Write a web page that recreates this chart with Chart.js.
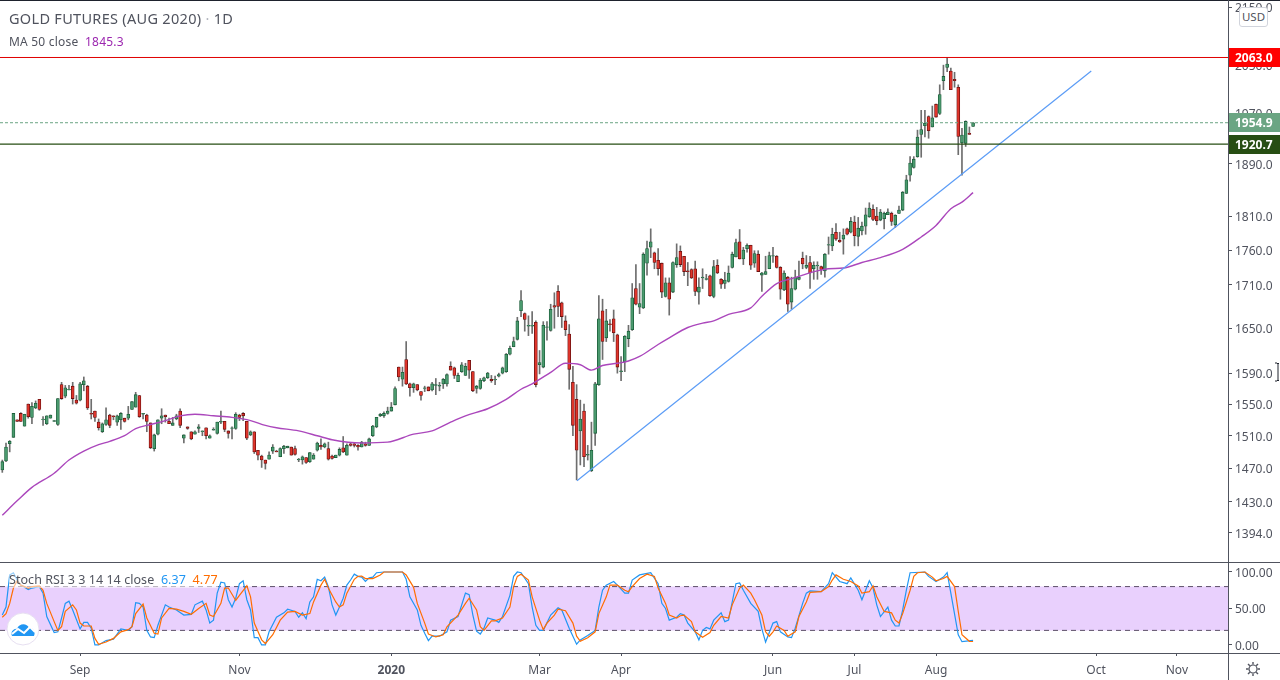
<!DOCTYPE html>
<html>
<head>
<meta charset="utf-8">
<title>Gold futures</title>
<script src="https://cdn.jsdelivr.net/npm/chart.js@4"></script>
<style>
    html, body { margin: 0; padding: 0; background: #fff; }
    #page { position: relative; width: 1280px; height: 680px; overflow: hidden; font-family: "Noto Sans", sans-serif; color: #50535e; }
    canvas { position: absolute; left: 0; display: block; }
    #main { top: 0; }
    #stoch { top: 562px; }
    .rule { position: absolute; background: #50535e; }
    .txt { position: absolute; white-space: pre; }
    #usd { position: absolute; left: 1239px; top: 7px; width: 27px; height: 18px; line-height: 18px; border: 1px solid #d1d4dc; border-radius: 3px; background: #fff; font-size: 11.5px; text-align: center; }
</style>
</head>
<body>
<div id="page">
    <canvas id="main" width="1280" height="562"></canvas>
    <canvas id="stoch" width="1280" height="118"></canvas>
    <div class="rule" style="left:0;top:0;width:1280px;height:1px;background:#1e222d"></div>
    <div class="rule" style="left:0;top:562px;width:1280px;height:1px"></div>
    <div class="rule" style="left:0;top:653px;width:1280px;height:1px"></div>
    <div class="rule" style="left:1228px;top:0;width:1px;height:680px"></div>
    <div class="txt" style="left:9px;top:8px;font-size:14.5px;letter-spacing:0.3px">GOLD FUTURES (AUG 2020) <span style="color:#b2b5be">·</span> 1D</div>
    <div class="txt" style="left:9px;top:33px;font-size:12px;letter-spacing:0.2px">MA 50 close  <span style="color:#9c27b0">1845.3</span></div>
    <div class="txt" style="left:9px;top:571px;font-size:12.5px;letter-spacing:0.06px;background:rgba(255,255,255,0.55)">Stoch RSI 3 3 14 14 close  <span style="color:#2196f3">6.37</span>  <span style="color:#ff6d00">4.77</span></div>
    <div id="usd">USD</div>
    <svg style="position:absolute;left:6px;top:612px" width="34" height="34" viewBox="0 0 34 34">
        <circle cx="17" cy="17" r="16" fill="#fff" stroke="#e6dff0"/>
        <path d="M6 24 C4 19 9 16 11 17 C13 11 21 11 23 16 C27 15 30 20 28 24 Z" fill="#2196f3"/>
        <path d="M6 22 L12 17 L18 21 L24 15 L29 20" fill="none" stroke="#fff" stroke-width="2"/>
    </svg>
    <svg style="position:absolute;left:1245px;top:661px" width="16" height="16" viewBox="0 0 16 16">
        <circle cx="8" cy="8" r="4" fill="none" stroke="#50535e" stroke-width="1.2"/>
        <path d="M8 1V3.5M8 12.5V15M1 8H3.5M12.5 8H15M3 3L4.8 4.8M11.2 11.2L13 13M13 3L11.2 4.8M4.8 11.2L3 13" stroke="#50535e" stroke-width="1.4"/>
    </svg>
    <svg style="position:absolute;left:1274px;top:362px" width="6" height="20" viewBox="0 0 6 20">
        <path d="M1 1H3L4 2L5 1M4 2V18M1 19H3L4 18L5 19" fill="none" stroke="#1e222d" stroke-width="1"/>
    </svg>
</div>

<script>
var opens = [
    1468,1479,1500,1508,1530,1538,1522,1550,1533,1545,
    1556,1530,1525,1532,1528,1524,1575,1560,1568,1573,
    1555,1555,1575,1573,1538,1541,1527,1515,1524,1536,
    1535,1527,1530,1532,1532,1543,1546,1561,1537,1536,
    1526,1494,1512,1532,1536,1528,1523,1531,1541,1507,
    1521,1515,1512,1519,1515,1520,1507,1517,1513,1527,
    1528,1516,1519,1519,1536,1538,1528,1511,1515,1492,
    1485,1480,1481,1491,1491,1484,1494,1495,1496,1494,
    1480,1480,1483,1478,1481,1492,1498,1496,1494,1485,
    1483,1486,1495,1486,1500,1500,1498,1496,1500,1498,
    1510,1521,1535,1535,1538,1541,1549,1598,1582,1608,
    1576,1571,1575,1566,1570,1572,1568,1574,1573,1576,
    1576,1599,1597,1579,1592,1587,1607,1592,1570,1570,
    1580,1584,1582,1581,1586,1590,1592,1615,1625,1635,
    1674,1670,1653,1653,1658,1601,1598,1651,1647,1681,
    1701,1685,1660,1642,1578,1556,1516,1541,1486,1467,
    1513,1575,1674,1637,1656,1663,1641,1592,1605,1636,
    1648,1705,1679,1678,1741,1764,1756,1745,1741,1694,
    1713,1700,1739,1758,1751,1730,1732,1733,1700,1720,
    1718,1723,1694,1738,1718,1712,1715,1735,1750,1772,
    1747,1762,1767,1741,1754,1724,1725,1733,1751,1751,
    1735,1703,1721,1686,1704,1718,1748,1735,1742,1733,
    1737,1736,1730,1767,1766,1786,1774,1776,1791,1786,
    1801,1780,1788,1795,1809,1820,1810,1804,1806,1812,
    1814,1797,1814,1819,1844,1872,1884,1901,1936,1950,
    1965,1948,1985,1970,2024,2046,2040,2026,2013,1923,
    1922,1938,1949
];
var closes = [
    1478,1496,1503,1538,1528,1528,1537,1534,1547,1551,
    1543,1531,1535,1536,1529,1557,1557,1571,1569,1557,
    1551,1576,1580,1545,1537,1533,1520,1525,1530,1523,
    1534,1535,1538,1528,1537,1553,1562,1534,1538,1528,
    1495,1511,1530,1535,1534,1525,1526,1535,1523,1511,
    1519,1506,1515,1521,1516,1510,1510,1518,1527,1528,
    1518,1513,1520,1537,1533,1535,1507,1515,1490,1486,
    1480,1476,1486,1496,1490,1494,1497,1497,1486,1487,
    1481,1484,1477,1489,1486,1501,1496,1500,1481,1482,
    1486,1493,1490,1498,1498,1498,1496,1502,1498,1506,
    1522,1533,1537,1538,1541,1546,1570,1585,1591,1576,
    1571,1576,1568,1561,1571,1567,1576,1575,1574,1582,
    1588,1594,1587,1587,1601,1599,1594,1567,1573,1581,
    1584,1590,1580,1582,1588,1597,1615,1623,1632,1660,
    1688,1662,1654,1654,1575,1604,1654,1652,1676,1679,
    1680,1666,1648,1595,1523,1492,1531,1484,1487,1492,
    1576,1663,1632,1660,1655,1644,1598,1593,1639,1646,
    1692,1683,1684,1754,1762,1772,1742,1733,1700,1713,
    1690,1742,1749,1739,1729,1729,1720,1701,1707,1721,
    1719,1695,1736,1727,1711,1717,1727,1754,1771,1747,
    1760,1767,1738,1755,1729,1727,1729,1752,1752,1735,
    1704,1727,1683,1705,1721,1721,1740,1738,1727,1738,
    1738,1732,1754,1768,1783,1776,1772,1782,1783,1802,
    1781,1792,1795,1812,1822,1805,1803,1816,1814,1816,
    1802,1811,1819,1846,1865,1891,1897,1932,1944,1954,
    1942,1963,1964,2001,2031,2052,2009,2024,1933,1935,
    1957,1936,1954.9
];
var highs = [
    1480,1501,1504,1538,1530,1539,1537,1550,1552,1554,
    1556,1534,1535,1536,1529,1557,1578,1574,1574,1578,
    1561,1578,1585,1574,1556,1541,1531,1526,1545,1537,
    1535,1536,1539,1532,1547,1553,1565,1561,1538,1537,
    1526,1512,1530,1544,1536,1532,1533,1537,1544,1511,
    1521,1515,1516,1524,1516,1520,1511,1520,1527,1541,
    1528,1516,1521,1539,1537,1539,1528,1516,1515,1492,
    1486,1480,1490,1499,1492,1495,1498,1497,1496,1497,
    1482,1485,1483,1489,1488,1502,1506,1501,1502,1486,
    1486,1495,1509,1500,1501,1501,1499,1503,1502,1507,
    1523,1533,1538,1540,1546,1552,1572,1598,1598,1632,
    1577,1577,1575,1566,1573,1572,1578,1583,1578,1583,
    1589,1605,1598,1590,1604,1603,1607,1592,1574,1583,
    1585,1591,1587,1586,1590,1598,1616,1626,1638,1665,
    1702,1671,1667,1673,1660,1620,1659,1659,1683,1699,
    1709,1686,1667,1655,1599,1575,1555,1550,1498,1527,
    1578,1695,1690,1676,1662,1675,1642,1612,1640,1654,
    1712,1739,1712,1756,1773,1791,1757,1762,1741,1720,
    1720,1743,1769,1766,1751,1742,1733,1744,1720,1733,
    1725,1724,1745,1746,1719,1728,1737,1757,1776,1790,
    1764,1769,1767,1759,1759,1728,1751,1757,1764,1752,
    1736,1730,1722,1721,1731,1744,1757,1752,1751,1743,
    1743,1737,1755,1779,1792,1799,1786,1791,1792,1808,
    1810,1808,1801,1822,1830,1827,1823,1820,1816,1821,
    1816,1812,1825,1847,1872,1901,1901,1943,1975,1975,
    1966,1982,1985,2017,2050,2063,2045,2038,2017,1946,
    1958,1948,1955
];
var lows = [
    1465,1478,1490,1508,1528,1528,1522,1532,1525,1544,
    1542,1523,1524,1532,1528,1523,1556,1558,1568,1550,
    1550,1554,1567,1543,1531,1528,1517,1514,1523,1520,
    1530,1523,1518,1527,1530,1543,1546,1533,1531,1515,
    1494,1491,1511,1525,1527,1525,1523,1530,1520,1501,
    1518,1505,1512,1514,1510,1506,1507,1517,1512,1525,
    1515,1507,1506,1518,1529,1529,1505,1510,1488,1480,
    1471,1469,1481,1488,1490,1484,1488,1495,1486,1486,
    1478,1475,1476,1477,1481,1491,1493,1495,1480,1481,
    1483,1485,1489,1486,1497,1496,1492,1496,1497,1498,
    1509,1520,1534,1533,1537,1541,1549,1580,1573,1575,
    1560,1565,1567,1555,1566,1567,1567,1562,1567,1570,
    1573,1594,1583,1579,1591,1587,1583,1566,1564,1569,
    1579,1583,1578,1575,1585,1589,1591,1614,1625,1634,
    1666,1646,1640,1643,1572,1589,1597,1634,1646,1650,
    1666,1651,1640,1569,1510,1456,1474,1472,1480,1466,
    1498,1574,1608,1632,1646,1632,1590,1580,1592,1625,
    1647,1682,1670,1677,1724,1749,1733,1724,1692,1693,
    1668,1699,1735,1736,1723,1709,1719,1695,1683,1705,
    1717,1694,1692,1726,1705,1705,1714,1734,1750,1747,
    1739,1757,1732,1735,1729,1701,1725,1733,1742,1734,
    1690,1702,1673,1676,1703,1717,1733,1733,1705,1718,
    1718,1725,1721,1754,1759,1774,1771,1754,1782,1785,
    1766,1766,1782,1783,1808,1803,1797,1803,1791,1812,
    1796,1793,1814,1818,1844,1863,1883,1900,1900,1932,
    1930,1948,1964,1968,2009,2039,2009,2013,1904,1872,
    1917,1936,1949
];

// moving average, read at these bars
var maBars = [0,4,8,14,18,22,26,29,33,36,40,44,48,52,57,62,67,71,74,80,85,89,97,104,111,116,121,125,131,136,140,143,148,152,156,159,162,166,169,172,177,180,185,189,192,196,202,205,209,213,216,220,223,227,232,237,243,248,252,256,259,262];
var maValues = [1414,1431,1447,1464,1480,1491,1499,1503,1510,1519,1524,1529,1535,1537,1535,1533,1529,1523,1520,1516,1510,1505,1501,1502,1512,1516,1527,1535,1544,1556,1569,1576,1591,1603,1601,1594,1600,1603,1606,1612,1628,1637,1651,1657,1660,1669,1678,1694,1712,1719,1724,1730,1733,1734,1742,1749,1761,1779,1796,1821,1831,1845.3];

// stoch rsi lines
var kBars = [0,1,2,3,4,5,7,8,10,11,12,14,15,16,17,18,19,21,22,23,24,25,26,28,30,31,32,34,35,36,37,38,39,40,41,42,44,45,47,49,51,52,54,55,56,57,58,59,60,61,62,63,64,65,66,67,68,69,70,71,72,74,76,77,79,80,81,82,83,84,85,86,87,88,89,90,91,
    92,93,94,95,96,97,98,99,100,101,103,108,109,110,112,113,114,115,116,118,120,121,123,125,126,127,128,129,130,131,133,134,135,137,138,139,140,142,143,144,145,146,148,150,151,153,155,156,158,160,161,162,163,165,166,168,169,170,172,173,175,177,178,179,180,182,183,
    184,185,187,188,189,190,191,192,194,195,196,198,199,200,202,204,205,206,208,209,210,212,213,214,216,217,218,221,223,224,226,228,229,231,232,234,235,236,237,239,240,241,242,243,244,245,249,250,252,254,255,256,258,259,262];
var kValues = [41,52,96,99,89,82,76,78,80,71,39,17,18,37,57,60,48,22,31,31,23,0,0,6,8,15,22,20,25,58,57,52,20,11,10,27,55,52,48,41,42,55,60,48,30,34,71,86,85,62,52,64,84,88,62,48,10,10,0,0,18,38,44,49,46,38,44,36,59,66,90,88,93,80,55,41,52,
    64,82,89,97,94,93,87,92,93,99,100,100,90,66,48,27,16,6,12,12,18,34,39,71,69,41,19,15,23,37,34,31,39,68,94,100,99,84,52,27,20,20,41,51,48,23,1,7,13,20,52,75,82,87,82,71,71,89,96,97,99,84,57,50,34,38,43,
    41,30,18,7,20,24,22,34,44,32,34,84,85,75,57,46,22,4,30,32,18,11,10,23,57,71,74,73,84,99,87,84,92,75,62,88,78,55,39,52,34,26,26,48,75,99,100,94,87,93,99,71,14,4.5,6.37];
var dBars = [0,1,2,3,4,5,7,8,10,11,12,14,15,16,17,19,20,21,22,24,25,26,28,30,32,34,35,36,38,39,41,42,43,45,47,49,51,53,55,56,57,59,60,61,63,64,66,67,68,70,71,73,75,77,79,81,83,84,86,87,88,90,91,
    92,93,95,96,97,98,100,102,103,108,109,111,112,114,115,117,119,120,123,125,126,128,129,130,132,133,135,137,138,139,140,142,143,145,146,147,149,150,152,154,155,156,158,160,161,163,164,166,168,169,170,172,174,176,177,179,180,182,183,
    184,186,187,189,191,192,194,196,197,199,200,202,203,205,206,207,208,209,211,212,214,215,217,218,221,223,224,225,227,229,231,232,234,235,236,238,240,241,242,243,245,246,247,249,251,252,254,255,257,258,259,261,262];
var dValues = [38,43,57,78,88,82,78,80,81,75,57,32,20,25,46,55,48,30,26,26,9,1,4,9,18,21,25,43,56,37,16,15,37,50,49,46,42,50,57,41,39,57,78,78,61,68,81,66,30,7,2,14,34,45,46,41,43,59,82,90,78,59,52,
    55,71,90,94,94.5,91,91,96,100,100,96,79,57,30,15,11,14,25,41,57,64,48,25,20,33,33,37,52,80,94,97,89,66,34,21,30,41,49,47,30,12,5,10,18,43,66,82,82,75,73,80,91,97,94,78,57,41,37,40,
    41,32,18,10.5,17,27,39,37,55,78,82,71,62,41,18,12,18,26,20,12,18,39,59,72,73,80,89,96,90,87,81,71,73,81,66,46,44,34,30,43,75,94,99,100,93,88,91,94,80,46,14,5,4.77];

// trend line and price levels
var trendBars = [155.1, 293.9];
var trendPrices = [1455, 2040];
var levelPrices = [2063.0, 1954.9, 1920.7];
var levelColors = ['#ff0000', '#6ba583', '#274e13'];

var priceTicks = [1394,1430,1470,1510,1550,1590,1650,1710,1760,1810,1890,1970,2050,2150];
var stochTicks = [0,50,100];
var stochBands = [80,20];
var monthBars = [21,64,105,145,167,208,230,252,295.2,317];
var monthLabels = ['Sep','Nov','2020','Mar','Apr','Jun','Jul','Aug','Oct','Nov'];

var xMin = -0.62;
var xMax = 330.8;
var font = '"Noto Sans", sans-serif';
var axisColor = '#50535e';

function points(xs, ys) {
    return xs.map(function (x, i) { return {x: x, y: ys[i]}; });
}

function flat(value) {
    return [{x: xMin, y: value}, {x: xMax, y: value}];
}

function xScale() {
    return {type: 'linear', min: xMin, max: xMax, offset: false, display: false, grid: {display: false}};
}

function rightAxis(type, min, max, ticks, decimals) {
    return {
        type: type,
        position: 'right',
        min: min,
        max: max,
        border: {display: false},
        grid: {drawOnChartArea: false, color: axisColor, tickLength: 4},
        afterFit: function (scale) {
            // no room for half labels at the ends, the pane runs edge to edge
            scale.width = 52;
            scale.paddingTop = 0;
            scale.paddingBottom = 0;
        },
        afterBuildTicks: function (scale) {
            scale.ticks = ticks.map(function (v) { return {value: v}; });
        },
        ticks: {
            autoSkip: false,
            padding: 3,
            labelOffset: 1.5,
            color: axisColor,
            font: {family: font, size: 12},
            callback: function (v) { return Number(v).toFixed(decimals); }
        }
    };
}

// price tags on the right axis
var tagsPlugin = {
    id: 'tags',
    afterDraw: function (chart) {
        var c = chart.ctx;
        var area = chart.chartArea;
        levelPrices.forEach(function (price, i) {
            var y = Math.round(chart.scales.y.getPixelForValue(price) - 0.5) + 0.5;
            c.save();
            c.fillStyle = levelColors[i];
            c.fillRect(area.right + 1, y - 9.5, 52, 19);
            c.fillStyle = '#fff';
            c.font = 'bold 12px ' + font;
            c.textAlign = 'left';
            c.textBaseline = 'middle';
            c.fillText(price.toFixed(1), area.right + 7, y + 1.5);
            c.restore();
        });
    }
};

var wicks = highs.map(function (h, i) { return {x: i, y: [lows[i], h]}; });
var bodies = opens.map(function (o, i) { return {x: i, y: [o, closes[i]]}; });

new Chart(document.getElementById('main'), {
    type: 'bar',
    plugins: [tagsPlugin],
    data: {
        datasets: [
            {type: 'line', data: flat(levelPrices[0]), borderColor: '#e00000', borderWidth: 1, pointRadius: 0, order: 1},
            {type: 'line', data: flat(levelPrices[1]), borderColor: levelColors[1], borderWidth: 1, borderDash: [3, 2], pointRadius: 0, order: 1},
            {type: 'line', data: flat(levelPrices[2]), borderColor: levelColors[2], borderWidth: 1.3, pointRadius: 0, order: 1},
            {type: 'line', data: points(trendBars, trendPrices), borderColor: '#5b9cf6', borderWidth: 1.2, pointRadius: 0, order: 2},
            {type: 'line', data: points(maBars, maValues), borderColor: '#ab47bc', borderWidth: 1.4, pointRadius: 0, cubicInterpolationMode: 'monotone', order: 3},
            {
                data: bodies,
                barThickness: 3,
                grouped: false,
                borderWidth: 0.8,
                borderSkipped: false,
                backgroundColor: function (ctx) { return closes[ctx.dataIndex] >= opens[ctx.dataIndex] ? '#4a9a6e' : '#e0352b'; },
                borderColor: function (ctx) { return closes[ctx.dataIndex] >= opens[ctx.dataIndex] ? '#1b5e3a' : '#6b0f0f'; },
                order: 4
            },
            {data: wicks, barThickness: 1, grouped: false, backgroundColor: '#6e6e6e', order: 5}
        ]
    },
    options: {
        responsive: false,
        animation: false,
        devicePixelRatio: 1,
        layout: {padding: 0},
        plugins: {legend: {display: false}, tooltip: {enabled: false}},
        scales: {
            x: xScale(),
            y: rightAxis('logarithmic', 1360.6, 2163.2, priceTicks, 1)
        }
    }
});

var stochX = xScale();
stochX.display = true;
stochX.border = {display: false};
stochX.grid = {drawOnChartArea: false, color: axisColor, tickLength: 3};
stochX.afterFit = function (scale) {
    scale.height = 27;
    scale.paddingLeft = 0;
    scale.paddingRight = 0;
};
stochX.afterBuildTicks = function (scale) {
    scale.ticks = monthBars.map(function (v) { return {value: v}; });
};
stochX.ticks = {
    autoSkip: false,
    maxRotation: 0,
    padding: 7,
    color: axisColor,
    font: function (ctx) {
        var isYear = ctx.tick && monthLabels[monthBars.indexOf(ctx.tick.value)] === '2020';
        return {family: font, size: 12, weight: isYear ? 'bold' : 'normal'};
    },
    callback: function (v) { return monthLabels[monthBars.indexOf(v)]; }
};

new Chart(document.getElementById('stoch'), {
    type: 'line',
    data: {
        datasets: [
            {data: points(dBars, dValues), borderColor: '#ff6d00', borderWidth: 1.2, pointRadius: 0, order: 1},
            {data: points(kBars, kValues), borderColor: '#2196f3', borderWidth: 1.2, pointRadius: 0, order: 2},
            {data: flat(stochBands[0]), borderColor: '#5d5068', borderWidth: 1, borderDash: [5, 4], pointRadius: 0, order: 3},
            {data: flat(stochBands[1]), borderColor: '#5d5068', borderWidth: 1, borderDash: [5, 4], pointRadius: 0, order: 3},
            {data: flat(stochBands[0]), borderWidth: 0, pointRadius: 0, fill: {target: 3}, backgroundColor: '#e9d0fd', order: 4}
        ]
    },
    options: {
        responsive: false,
        animation: false,
        devicePixelRatio: 1,
        layout: {padding: 0},
        plugins: {legend: {display: false}, tooltip: {enabled: false}},
        scales: {
            x: stochX,
            y: rightAxis('linear', -11, 113.7, stochTicks, 2)
        }
    }
});
</script>
</body>
</html>
